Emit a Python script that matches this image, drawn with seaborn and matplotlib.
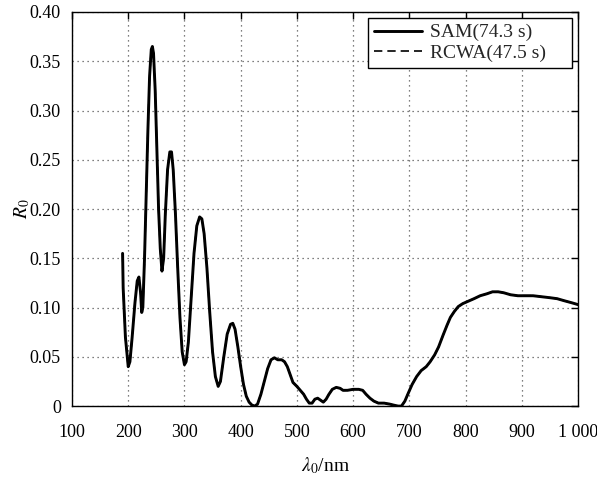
import numpy as np
import pandas as pd
import matplotlib
matplotlib.use("Agg")
import matplotlib.pyplot as plt
import seaborn as sns

wavelength = [190, 191, 195, 200, 203, 207, 212, 216, 219, 222, 224, 226, 229, 232, 235, 238, 241, 243, 245,
              248, 251, 254, 257, 260, 263, 266, 270, 274, 277, 280, 284, 288, 292, 296, 300, 303, 307, 312,
              317, 322, 327, 331, 335, 340, 345, 350, 355, 360, 364, 370, 376, 382, 386, 390, 395, 400, 405,
              410, 415, 420, 425, 430, 436, 442, 448, 454, 460, 466, 473, 478, 483, 488, 493, 500, 506, 512,
              517, 522, 527, 532, 537, 542, 547, 552, 557, 563, 570, 577, 582, 590, 600, 610, 617, 623, 630,
              637, 645, 655, 665, 672, 680, 686, 692, 698, 705, 713, 721, 730, 737, 745, 752, 760, 767, 773,
              780, 787, 795, 803, 815, 826, 838, 848, 858, 868, 880, 893, 905, 920, 935, 950, 963, 975, 988, 1000]
r_sam = [0.155, 0.120, 0.070, 0.040, 0.045, 0.070, 0.105, 0.127, 0.131, 0.115, 0.095, 0.100, 0.150, 0.215,
         0.280, 0.335, 0.362, 0.365, 0.358, 0.320, 0.260, 0.200, 0.160, 0.137, 0.150, 0.195, 0.240, 0.258,
         0.258, 0.240, 0.195, 0.140, 0.090, 0.055, 0.042, 0.045, 0.065, 0.110, 0.155, 0.183, 0.192, 0.190,
         0.175, 0.140, 0.095, 0.055, 0.030, 0.020, 0.025, 0.050, 0.073, 0.083, 0.084, 0.078, 0.060, 0.040,
         0.022, 0.010, 0.004, 0.001, 0.000, 0.002, 0.012, 0.025, 0.038, 0.047, 0.049, 0.047, 0.047, 0.045,
         0.040, 0.032, 0.024, 0.020, 0.016, 0.012, 0.007, 0.003, 0.003, 0.007, 0.008, 0.006, 0.004, 0.007,
         0.012, 0.017, 0.019, 0.018, 0.016, 0.016, 0.017, 0.017, 0.016, 0.012, 0.008, 0.005, 0.003, 0.003,
         0.002, 0.001, 0.000, 0.000, 0.005, 0.013, 0.022, 0.030, 0.036, 0.040, 0.045, 0.052, 0.060, 0.072,
         0.082, 0.090, 0.096, 0.101, 0.104, 0.106, 0.109, 0.112, 0.114, 0.116, 0.116, 0.115, 0.113, 0.112,
         0.112, 0.112, 0.111, 0.110, 0.109, 0.107, 0.105, 0.103]
r_rcwa = list(r_sam)

series_labels = ["SAM(74.3 s)", "RCWA(47.5 s)"]
x_ticks = [100, 200, 300, 400, 500, 600, 700, 800, 900, 1000]
x_tick_labels = ["100", "200", "300", "400", "500", "600", "700", "800", "900", "1 000"]
y_ticks = [0, 0.05, 0.10, 0.15, 0.20, 0.25, 0.30, 0.35, 0.40]
y_tick_labels = ["0", "0.05", "0.10", "0.15", "0.20", "0.25", "0.30", "0.35", "0.40"]

df = pd.concat([
    pd.DataFrame({"wl": wavelength, "R": r_sam, "method": series_labels[0]}),
    pd.DataFrame({"wl": wavelength, "R": r_rcwa, "method": series_labels[1]}),
])

sns.set_theme(style="white")
plt.rcParams["font.family"] = ["Liberation Serif", "DejaVu Serif"]
plt.rcParams["mathtext.fontset"] = "stix"

fig = plt.figure(figsize=(5.97, 4.8), dpi=100)
ax = fig.add_axes([0.1206, 0.154, 0.8476, 0.821])

sns.lineplot(data=df[df.method == series_labels[0]], x="wl", y="R", ax=ax, color="black",
             linewidth=2.1, label=series_labels[0], sort=False)
sns.lineplot(data=df[df.method == series_labels[1]], x="wl", y="R", ax=ax, color="black",
             linewidth=1.2, linestyle=(0, (5, 3)), label=series_labels[1], sort=False)

ax.set_xlim(100, 1000)
ax.set_ylim(0, 0.40)
ax.set_xticks(x_ticks)
ax.set_xticklabels(x_tick_labels)
ax.set_yticks(y_ticks)
ax.set_yticklabels(y_tick_labels)
ax.tick_params(direction="in", length=5, width=1, top=True, right=True, labelsize=13,
               colors="black")
ax.tick_params(axis="x", pad=13)
ax.tick_params(axis="y", pad=8)
ax.grid(True, linestyle=(0, (1, 3)), color="#555555", linewidth=0.9)
for s in ax.spines.values():
    s.set_color("black")
    s.set_linewidth(1.0)

ax.set_xlabel(r"$\lambda_0$/nm", fontsize=14, labelpad=10, color="black")
ax.set_ylabel(r"$R_0$", fontsize=14, color="black")
ax.yaxis.set_label_coords(-0.079, 0.5)

leg = ax.legend(loc="upper right", fontsize=14, frameon=True, fancybox=False, edgecolor="black",
                framealpha=1, borderpad=0.3, handlelength=2.5, labelspacing=0.15,
                handletextpad=0.4, mode="expand",
                bbox_to_anchor=(0.585, 0.5, 0.403, 0.485), borderaxespad=0.0)
leg.get_frame().set_linewidth(1.0)

fig.savefig("out.png", dpi=100, facecolor="white")
